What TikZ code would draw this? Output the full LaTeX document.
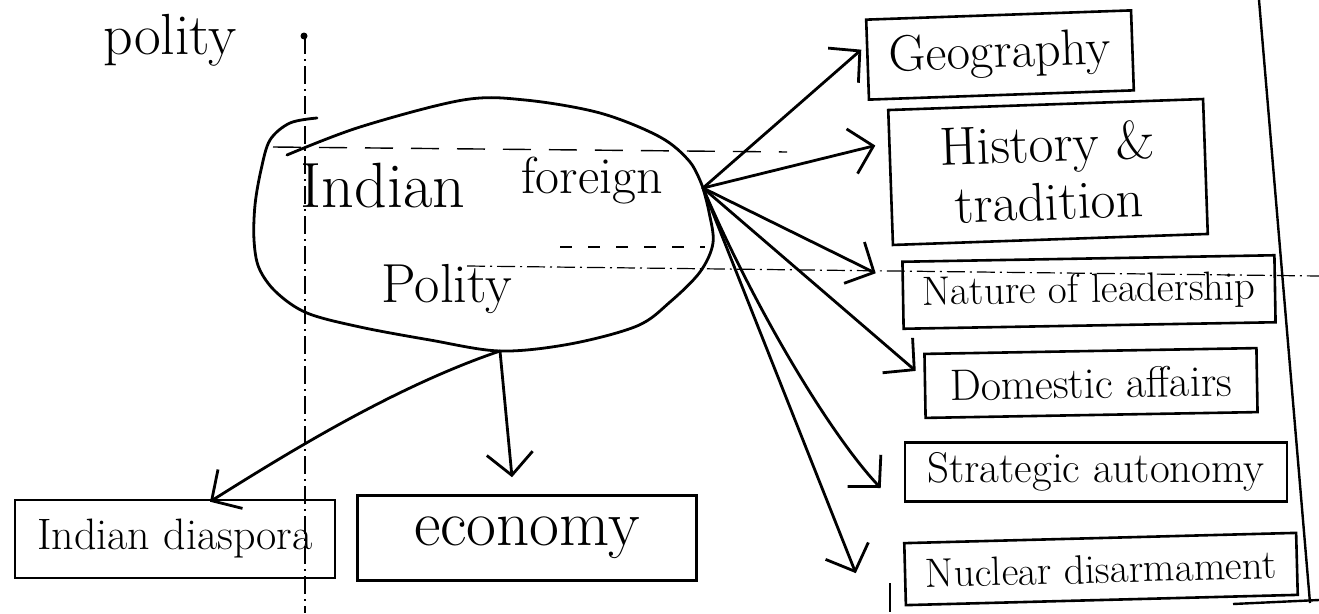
\documentclass[tikz,border=0pt]{standalone}
\usepackage{fontspec}
\usetikzlibrary{arrows.meta,calc}
\newcommand\fsz[1]{\fontsize{#1}{#1}\selectfont}
\begin{document}
\begin{tikzpicture}[x=1pt,y=-1pt,
  ink/.style={line width=2.8pt, line cap=round, line join=round},
  box/.style={draw, line width=2.6pt, inner sep=0pt, anchor=center},
  arr/.style={ink, -{Straight Barb[length=22pt,width=46pt]}},
  guide/.style={line width=1.2pt, dash pattern=on 18pt off 5pt on 2pt off 5pt},
  guidedash/.style={line width=1.4pt, dash pattern=on 28pt off 18pt}
]
\useasboundingbox (0,0) rectangle (1319,613);

% guide lines
\draw[guide] (305,36) -- (305,613);
\fill (304,36) circle (3.5pt);
\draw[guide] (467,266) -- (1319,276);
\draw[guidedash] (273,147) -- (787,152);
\draw[line width=1.3pt, dash pattern=on 12pt off 16pt] (560,247) -- (705,247);
\draw[line width=2.4pt] (1259,0) -- (1310,603);
\draw[line width=2.4pt] (1233,604) -- (1319,600);

% title
\node[font=\fsz{58}, anchor=base] (title) at (170,54) {polity};

% central blob
\draw[ink] plot[smooth, tension=0.55] coordinates {(317,118) (290,123) (270,140) (261,170) (255,205) (254,240) (259,268) (276,292) (307,313) (360,327) (430,340) (500,351) (570,344) (637,326) (670,302) (700,272) (713,243) (709,212) (703,188)};
\draw[ink] plot[smooth, tension=0.55] coordinates {(287,155) (360,127) (463,100) (525,100) (600,113) (660,137) (690,162) (703,188)};
\node[font=\fsz{64}, anchor=base] (ifpA) at (383,207) {Indian};
\node[font=\fsz{52}, anchor=base] (ifpB) at (592,193) {foreign};
\node[font=\fsz{55}, anchor=base] (ifpC) at (447,302) {Polity};
\coordinate (C) at (703,188);
\coordinate (B) at (500,351);

% right boxes
\node[box, minimum width=265pt, minimum height=80pt, rotate=2, font=\fsz{51}] (geo) at (1000,55) {Geography};
\node[box, minimum width=315pt, minimum height=135pt, rotate=2, font=\fsz{54}, align=center] (hist) at (1048,172) {History \&\\[4pt]tradition};
\node[box, minimum width=372pt, minimum height=67pt, rotate=1, font=\fsz{41}] (nat) at (1089,292) {Nature of leadership};
\node[box, minimum width=332pt, minimum height=64pt, rotate=1, font=\fsz{44}] (dom) at (1091,383) {Domestic affairs};
\node[box, minimum width=382pt, minimum height=59pt, font=\fsz{43}] (strat) at (1096,472) {Strategic autonomy};
\node[box, minimum width=392pt, minimum height=62pt, rotate=1.5, font=\fsz{41}] (nuc) at (1101,569) {Nuclear disarmament};
\draw[line width=2.4pt] (890,583) -- (890,612);

% bottom boxes
\node[box, minimum width=320pt, minimum height=78pt, font=\fsz{44}] (dias) at (175,539) {Indian diaspora};
\node[box, minimum width=339pt, minimum height=85pt, font=\fsz{65}] (eco) at (527,538) {economy};

% arrows
\draw[arr] (C) -- ($(geo.west)+(-5,-10)$);
\draw[arr] (C) -- ($(hist.west)+(-14,-32)$);
\draw[arr] (C) -- ($(nat.west)+(-26,-22)$);
\draw[arr] (C) -- ($(dom.west)+(-8,-15)$);
\draw[arr] (C) .. controls (760,320) and (835,440) .. ($(strat.west)+(-23,16)$);
\draw[arr] (C) -- ($(nuc.west)+(-48,-1)$);
\draw[arr] (B) .. controls (400,385) and (300,445) .. ($(dias.north)+(35,3)$);
\draw[arr] (B) -- ($(eco.north)+(-15,-17)$);
\end{tikzpicture}
\end{document}
